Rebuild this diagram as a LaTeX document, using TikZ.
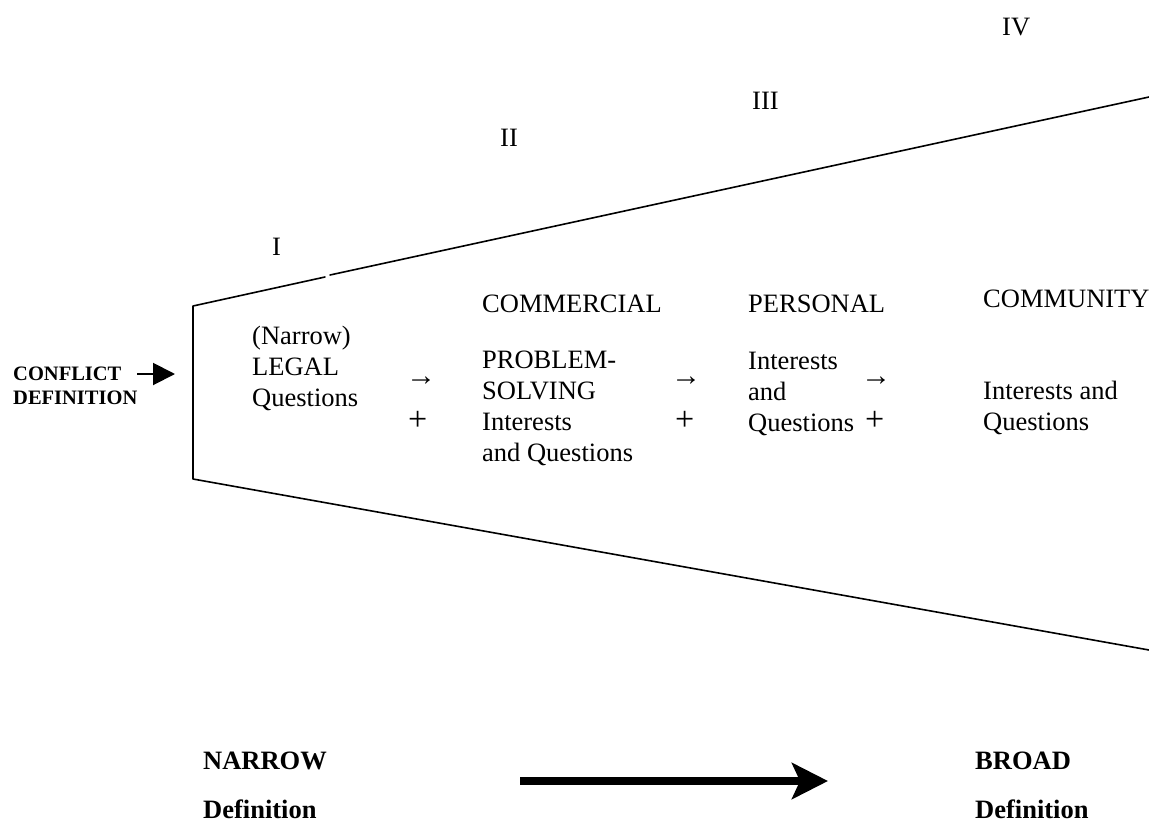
\documentclass[tikz,border=0pt]{standalone}
\usepackage{fontspec}
\setmainfont{Liberation Serif}
\usetikzlibrary{arrows.meta}
\begin{document}
\begin{tikzpicture}[x=1pt,y=-1pt,
  txt/.style={anchor=north west,yshift=21.7pt,inner sep=0pt,align=left,execute at begin node={\vrule width 0pt height 21.7pt depth 0pt},font=\fontsize{26.5}{31}\selectfont},
  btxt/.style={anchor=north west,yshift=21pt,inner sep=0pt,align=left,execute at begin node={\vrule width 0pt height 21pt depth 0pt},font=\fontsize{26.5}{49}\selectfont\bfseries},
  ctxt/.style={anchor=north west,yshift=16pt,inner sep=0pt,align=left,execute at begin node={\vrule width 0pt height 16pt depth 0pt},font=\fontsize{20.5}{24}\selectfont\bfseries},
  arr/.style={anchor=base west,inner sep=0pt,font=\fontsize{30}{34}\selectfont},
  plus/.style={anchor=base west,inner sep=0pt,font=\fontsize{34}{38}\selectfont},
  funnel/.style={line width=1.6pt,line cap=round,line join=round}]
\useasboundingbox (0,0) rectangle (1149,825);
% Roman numerals
\node[txt] (n1) at (272,255) {I};
\node[txt] (n2) at (500,146) {II};
\node[txt] (n3) at (752,109) {III};
\node[txt] (n4) at (1002,35) {IV};
% funnel
\coordinate (tl) at (193,306);
\coordinate (tg1) at (325,277);
\coordinate (tg2) at (330,275);
\coordinate (tr) at (1149,97);
\coordinate (bl) at (193,479);
\coordinate (br) at (1149,650);
\draw[funnel] (tg1) -- (tl) -- (bl) -- (br);
\draw[funnel] (tg2) -- (tr);
% conflict definition
\node[ctxt] (conf) at (13,383) {CONFLICT\\DEFINITION};
\coordinate (confstart) at (137,374);
\coordinate (confend) at (175,374);
\draw[line width=2pt,-{Triangle[length=22pt,width=22pt]}] (confstart) -- (confend);
% headings
\node[txt] (com) at (482,312) {COMMERCIAL};
\node[txt] (per) at (748,312) {PERSONAL};
\node[txt] (cty) at (983,307) {COMMUNITY};
% contents
\node[txt] (legal) at (252,348) {(Narrow)\\LEGAL\\Questions};
\node[txt] (prob) at (482,372) {PROBLEM-\\SOLVING\\Interests\\and Questions};
\node[txt] (pers) at (748,374) {Interests\\and\\Questions};
\node[txt] (comm) at (983,403) {Interests and\\Questions};
% arrows and plus
\node[arr] (a1) at (406,385) {→};
\node[plus] (p1) at (408,430) {+};
\node[arr] (a2) at (671,385) {→};
\node[plus] (p2) at (675,430) {+};
\node[arr] (a3) at (861,385) {→};
\node[plus] (p3) at (865,430) {+};
% bottom
\node[btxt] (narrow) at (203,773) {NARROW\\Definition};
\node[btxt] (broad) at (975,773) {BROAD\\Definition};
\coordinate (bs) at (520,781);
\coordinate (be) at (828,781);
\draw[line width=8pt,-{Stealth[length=36pt,width=36pt,inset=8pt]}] (bs) -- (be);
\end{tikzpicture}
\end{document}
